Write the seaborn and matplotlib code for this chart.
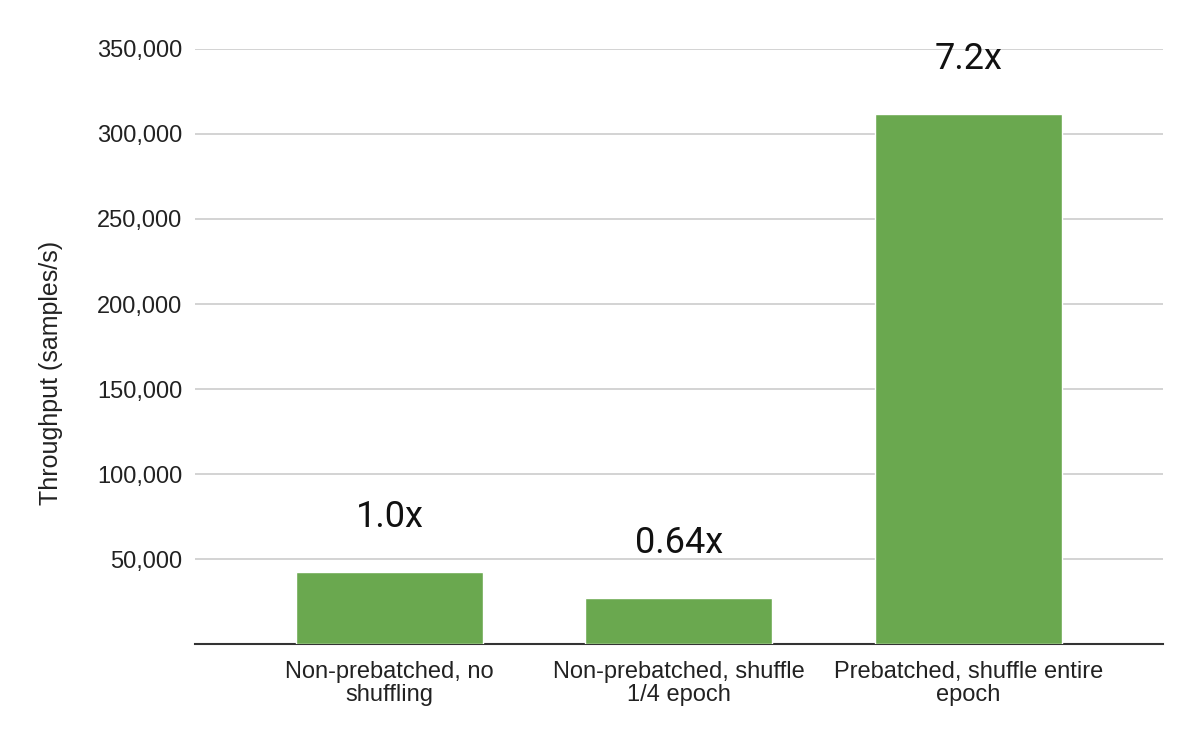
import matplotlib
matplotlib.use("Agg")
import matplotlib.pyplot as plt
import seaborn as sns
import pandas as pd
from matplotlib.ticker import FuncFormatter

# Data
categories = ["Non-prebatched, no\nshuffling",
              "Non-prebatched, shuffle\n1/4 epoch",
              "Prebatched, shuffle entire\nepoch"]
throughput = [42300, 27000, 311500]
speedups = ["1.0x", "0.64x", "7.2x"]
y_ticks = [50000, 100000, 150000, 200000, 250000, 300000, 350000]

df = pd.DataFrame({"config": categories, "throughput": throughput})

sns.set_theme(style="white")
plt.rcParams["font.family"] = ["Liberation Sans", "DejaVu Sans"]

fig, ax = plt.subplots(figsize=(12, 7.42), dpi=100)
fig.subplots_adjust(left=0.1625, right=0.969, top=0.934, bottom=0.132)

sns.barplot(data=df, x="config", y="throughput", color="#6aa84f",
            saturation=1, width=0.646, ax=ax, zorder=3)

# Speed-up labels above each bar
for i, (val, lab) in enumerate(zip(throughput, speedups)):
    ax.annotate(lab, (i, val), xytext=(0, 40), textcoords="offset points",
                ha="center", va="center", fontsize=26, color="#111111",
                family=["Roboto", "DejaVu Sans"], zorder=4)

ax.set_xlim(-0.672, 2.672)
ax.set_ylim(0, 350000)
ax.set_yticks(y_ticks)
ax.yaxis.set_major_formatter(FuncFormatter(lambda v, p: f"{int(v):,}"))
ax.grid(axis="y", color="#cccccc", linewidth=1.2, zorder=0)
ax.set_axisbelow(True)

for side in ["top", "right", "left"]:
    ax.spines[side].set_visible(False)
ax.spines["bottom"].set_color("#333333")
ax.spines["bottom"].set_linewidth(1.5)

ax.tick_params(axis="y", length=0, pad=9, labelsize=17, labelcolor="#222222")
ax.tick_params(axis="x", length=0, pad=12, labelsize=17, labelcolor="#222222")
for t in ax.get_xticklabels():
    t.set_linespacing(1.08)

ax.set_xlabel("")
ax.set_ylabel("Throughput (samples/s)", fontsize=18, color="#222222")
ax.yaxis.set_label_coords(-0.136, 0.455)

fig.savefig("out.png", dpi=100)
